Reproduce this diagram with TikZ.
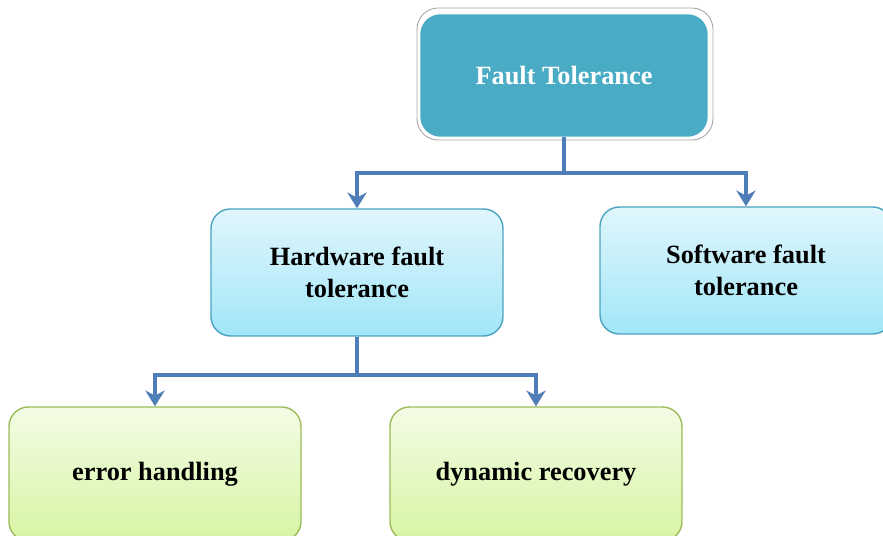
\documentclass[tikz,border=0pt]{standalone}
\usepackage{fontspec}
\setmainfont{Liberation Serif}
\usetikzlibrary{arrows.meta}

\definecolor{ftblue}{HTML}{4AABC5}
\definecolor{framegray}{HTML}{A6A6A6}
\definecolor{bluetop}{HTML}{E0F6FC}
\definecolor{bluebot}{HTML}{A2E6F8}
\definecolor{blueedge}{HTML}{4BA3C0}
\definecolor{greentop}{HTML}{F4FCE6}
\definecolor{greenbot}{HTML}{D6F5A3}
\definecolor{greenedge}{HTML}{9BBB59}
\definecolor{linkblue}{HTML}{4F7DB8}

\tikzset{
	box/.style={draw, rounded corners=11pt, minimum width=5.84cm, minimum height=2.54cm,
		align=center, line width=0.8pt, font=\fontsize{15}{18.5}\selectfont\bfseries},
	bluebox/.style={box, draw=blueedge, top color=bluetop, bottom color=bluebot},
	greenbox/.style={box, draw=greenedge, top color=greentop, bottom color=greenbot, minimum height=2.68cm},
	conn/.style={draw=linkblue, line width=2.3pt, -{Stealth[length=9pt,width=11pt]}}
}

\begin{document}
\begin{tikzpicture}[x=0.02cm,y=-0.02cm]
		\useasboundingbox (0,0) rectangle (883,536);
		\clip (0,0) rectangle (883,536);

		\node[draw=framegray, line width=0.5pt, rounded corners=12pt,
			minimum width=5.92cm, minimum height=2.64cm] (frame) at (565,74) {};
		\node[box, fill=ftblue, draw=ftblue, text=white,
			minimum width=5.72cm, minimum height=2.42cm] (ft) at (564,75.5) {Fault Tolerance};

		\node[bluebox] (hw) at (357,272.5) {Hardware fault\\tolerance};
		\node[bluebox] (sw) at (746,270.5) {Software fault\\tolerance};

		\node[greenbox] (err) at (155,474) {error handling};
		\node[greenbox] (dyn) at (536,474) {dynamic recovery};

		\coordinate (ftjoin) at (564,173);
		\coordinate (hwjoin) at (357,375);

		\draw[conn] (ft.south) -- (ftjoin) -| (hw.north);
		\draw[conn] (ftjoin) -| (sw.north);
		\draw[conn] (hw.south) -- (hwjoin) -| (err.north);
		\draw[conn] (hwjoin) -| (dyn.north);

	\end{tikzpicture}
\end{document}
